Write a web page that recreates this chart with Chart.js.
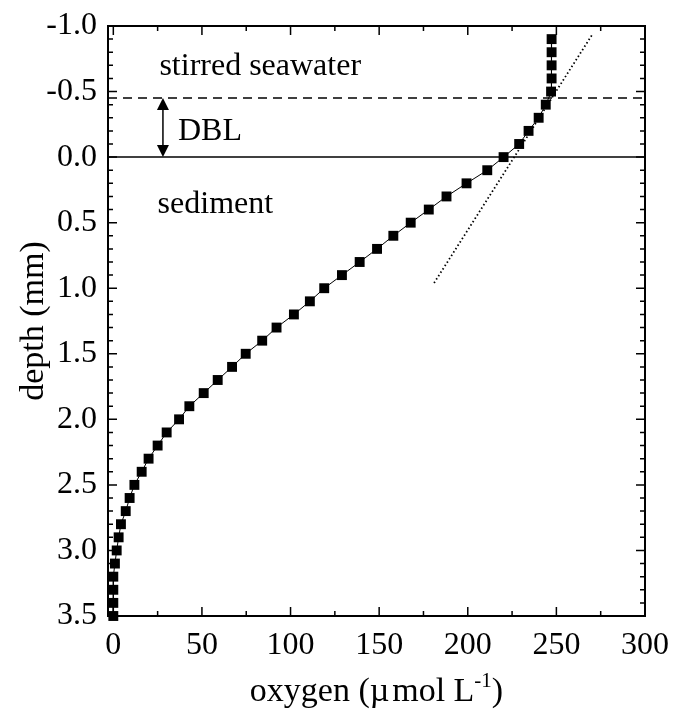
<!DOCTYPE html>
<html>
<head>
<meta charset="utf-8">
<script src="https://cdn.jsdelivr.net/npm/chart.js@4/dist/chart.umd.min.js"></script>
<style>
  html, body { margin: 0; padding: 0; background: #fff; }
  #wrap { width: 673px; height: 716px; }
</style>
</head>
<body>
<div id="wrap"><canvas id="o2Chart" width="673" height="716"></canvas></div>
<script>
// O2 microprofile: depth (mm) vs oxygen (umol/L)
const depthMm = [-0.9, -0.8, -0.7, -0.6, -0.5, -0.4, -0.3, -0.2, -0.1, 0.0,
  0.1, 0.2, 0.3, 0.4, 0.5, 0.6, 0.7, 0.8, 0.9, 1.0,
  1.1, 1.2, 1.3, 1.4, 1.5, 1.6, 1.7, 1.8, 1.9, 2.0,
  2.1, 2.2, 2.3, 2.4, 2.5, 2.6, 2.7, 2.8, 2.9, 3.0,
  3.1, 3.2, 3.3, 3.4, 3.5];
const oxygen = [247.3, 247.3, 247.3, 247.3, 247, 244, 240, 234.3, 229, 220.2,
  211, 199.3, 188, 178, 167.8, 158, 148.8, 139, 129, 119,
  110.9, 101.9, 92.1, 84, 74.7, 67, 58.9, 51, 42.9, 37.1,
  30.1, 25, 19.9, 16, 11.9, 9.2, 7, 4.3, 3.0, 1.9,
  0.9, 0, 0, 0, 0];

// linear gradient through the diffusive boundary layer
const fitOxygen = [181, 270];
const fitDepth = [0.96, -0.93];

// DBL limits and the labels of the zones
const dblTop = -0.45;
const interfaceDepth = 0.0;
const arrowX = 28;
const zoneLabels = [
  { text: "stirred seawater", x: 26, y: -0.63 },
  { text: "DBL", x: 36.5, y: -0.13 },
  { text: "sediment", x: 25, y: 0.425 }
];

const xTicksMajor = [0, 50, 100, 150, 200, 250, 300];
const yTicksMajor = [-1.0, -0.5, 0.0, 0.5, 1.0, 1.5, 2.0, 2.5, 3.0, 3.5];

const SERIF = "'Liberation Serif', 'Times New Roman', serif";

function toPoints(xs, ys) {
  return xs.map((x, i) => ({ x: x, y: ys[i] }));
}

// frame, inward ticks, DBL lines, arrow, zone labels and axis titles
const decorations = {
  id: "decorations",
  afterDatasetsDraw(chart) {
    const ctx = chart.ctx;
    const a = chart.chartArea;
    const xs = chart.scales.x;
    const ys = chart.scales.y;
    ctx.save();
    ctx.strokeStyle = "#000";
    ctx.fillStyle = "#000";

    // horizontal lines: DBL top (dashed) and sediment surface (solid)
    ctx.lineWidth = 1.5;
    ctx.setLineDash([9, 6]);
    let yy = ys.getPixelForValue(dblTop);
    ctx.beginPath(); ctx.moveTo(a.left, yy); ctx.lineTo(a.right, yy); ctx.stroke();
    ctx.setLineDash([]);
    yy = ys.getPixelForValue(interfaceDepth);
    ctx.beginPath(); ctx.moveTo(a.left, yy); ctx.lineTo(a.right, yy); ctx.stroke();

    // double arrow spanning the DBL
    const ax = xs.getPixelForValue(arrowX);
    const y1 = ys.getPixelForValue(dblTop);
    const y2 = ys.getPixelForValue(interfaceDepth);
    ctx.lineWidth = 1.5;
    ctx.beginPath(); ctx.moveTo(ax, y1 + 8); ctx.lineTo(ax, y2 - 8); ctx.stroke();
    ctx.beginPath(); ctx.moveTo(ax, y1); ctx.lineTo(ax - 6, y1 + 12); ctx.lineTo(ax + 6, y1 + 12); ctx.closePath(); ctx.fill();
    ctx.beginPath(); ctx.moveTo(ax, y2); ctx.lineTo(ax - 6, y2 - 12); ctx.lineTo(ax + 6, y2 - 12); ctx.closePath(); ctx.fill();

    // zone labels
    ctx.font = "32px " + SERIF;
    ctx.textAlign = "left";
    ctx.textBaseline = "alphabetic";
    zoneLabels.forEach(l => {
      ctx.fillText(l.text, xs.getPixelForValue(l.x), ys.getPixelForValue(l.y));
    });

    // frame
    ctx.lineWidth = 2;
    ctx.strokeRect(a.left, a.top, a.right - a.left, a.bottom - a.top);

    // inward ticks on all four sides
    ctx.lineWidth = 1.5;
    ctx.beginPath();
    for (let v = 0; v <= 300; v += 25) {
      const px = xs.getPixelForValue(v);
      const len = v % 50 === 0 ? 9 : 5;
      ctx.moveTo(px, a.bottom); ctx.lineTo(px, a.bottom - len);
      ctx.moveTo(px, a.top); ctx.lineTo(px, a.top + len);
    }
    for (let i = -10; i <= 35; i++) {
      const py = ys.getPixelForValue(i / 10);
      const len = i % 5 === 0 ? 9 : 5;
      ctx.moveTo(a.left, py); ctx.lineTo(a.left + len, py);
      ctx.moveTo(a.right, py); ctx.lineTo(a.right - len, py);
    }
    ctx.stroke();

    // x title with superscript
    const main = "oxygen (\u00b5\u200amol L";
    const sup = "-1";
    const tail = ")";
    ctx.font = "34px " + SERIF;
    const wMain = ctx.measureText(main).width;
    const wTail = ctx.measureText(tail).width;
    ctx.font = "21px " + SERIF;
    const wSup = ctx.measureText(sup).width;
    let tx = (a.left + a.right) / 2 - (wMain + wSup + wTail) / 2;
    const base = 701;
    ctx.font = "34px " + SERIF;
    ctx.fillText(main, tx, base);
    tx += wMain;
    ctx.font = "21px " + SERIF;
    ctx.fillText(sup, tx, base - 14);
    tx += wSup;
    ctx.font = "34px " + SERIF;
    ctx.fillText(tail, tx, base);

    // y title
    ctx.translate(43, (a.top + a.bottom) / 2);
    ctx.rotate(-Math.PI / 2);
    ctx.textAlign = "center";
    ctx.fillText("depth (mm)", 0, 0);
    ctx.restore();
  }
};

new Chart(document.getElementById("o2Chart"), {
  type: "scatter",
  data: {
    datasets: [
      {
        label: "O2",
        data: toPoints(oxygen, depthMm),
        showLine: true,
        borderColor: "#000",
        borderWidth: 1,
        backgroundColor: "#000",
        pointStyle: "rect",
        pointRadius: 7,
        pointBorderWidth: 0,
        clip: false
      },
      {
        label: "gradient",
        data: toPoints(fitOxygen, fitDepth),
        showLine: true,
        borderColor: "#000",
        borderWidth: 1.8,
        borderDash: [1.5, 2.5],
        pointRadius: 0,
        clip: false
      }
    ]
  },
  options: {
    responsive: false,
    animation: false,
    layout: { padding: { top: 26, right: 28, left: 0, bottom: 0 } },
    plugins: { legend: { display: false }, tooltip: { enabled: false } },
    scales: {
      x: {
        type: "linear",
        min: -3,
        max: 300,
        afterBuildTicks(scale) { scale.ticks = xTicksMajor.map(v => ({ value: v })); },
        afterFit(scale) { scale.height = 100; },
        grid: { display: false },
        border: { display: false },
        ticks: {
          color: "#000",
          font: { family: SERIF, size: 32 },
          padding: 2,
          maxRotation: 0,
          autoSkip: false
        }
      },
      y: {
        type: "linear",
        reverse: true,
        min: -1,
        max: 3.5,
        afterBuildTicks(scale) { scale.ticks = yTicksMajor.map(v => ({ value: v })); },
        afterFit(scale) { scale.width = 108; },
        grid: { display: false },
        border: { display: false },
        ticks: {
          color: "#000",
          font: { family: SERIF, size: 32 },
          padding: 3,
          autoSkip: false,
          callback: v => v.toFixed(1)
        }
      }
    }
  },
  plugins: [decorations]
});
</script>
</body>
</html>
